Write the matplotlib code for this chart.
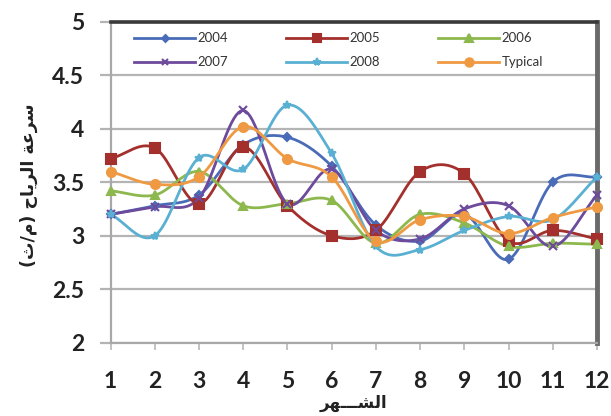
import numpy as np
import matplotlib.pyplot as plt

# monthly mean wind speed (m/s)
months = [1, 2, 3, 4, 5, 6, 7, 8, 9, 10, 11, 12]
y2004 = [3.20, 3.28, 3.38, 3.85, 3.92, 3.65, 3.10, 2.95, 3.20, 2.78, 3.50, 3.55]
y2005 = [3.72, 3.82, 3.30, 3.83, 3.28, 3.00, 3.05, 3.60, 3.58, 2.95, 3.05, 2.97]
y2006 = [3.42, 3.38, 3.60, 3.28, 3.30, 3.33, 2.93, 3.20, 3.12, 2.90, 2.93, 2.92]
y2007 = [3.20, 3.27, 3.35, 4.17, 3.30, 3.62, 3.05, 2.97, 3.25, 3.28, 2.90, 3.38]
y2008 = [3.20, 3.00, 3.73, 3.62, 4.22, 3.77, 2.90, 2.87, 3.05, 3.18, 3.15, 3.55]
typical = [3.60, 3.48, 3.55, 4.02, 3.72, 3.55, 2.95, 3.15, 3.18, 3.02, 3.17, 3.27]

series = [
    ("2004", y2004, "#4a6cb8", "D", 4),
    ("2005", y2005, "#a3302c", "s", 6.5),
    ("2006", y2006, "#8db84e", "^", 6),
    ("2007", y2007, "#6d4a9c", "x", 5.5),
    ("2008", y2008, "#5ab0d2", "*", 6),
    ("Typical", typical, "#ef9a42", "o", 6.5),
]

# shaped arabic text (presentation forms, visual order)
ylab = "(\uFE99/\uFEE1) \uFEA1\uFE8E\uFEF3\uFEAE\uFEDF\uFE8D \uFE94\uFECB\uFEAE\uFEB3"
xlab = "\uFEAE\uFEEC\u0640\u0640\u0640\uFEB8\uFEDF\uFE8D"


def smooth(x, y, n=20):
    # cardinal spline through the points, like a smoothed line in a spreadsheet
    x = np.asarray(x, float)
    y = np.asarray(y, float)
    px = np.concatenate([[2 * x[0] - x[1]], x, [2 * x[-1] - x[-2]]])
    py = np.concatenate([[2 * y[0] - y[1]], y, [2 * y[-1] - y[-2]]])
    t = np.linspace(0, 1, n)[:-1]
    xs, ys = [], []
    for i in range(1, len(px) - 2):
        p0, p1, p2, p3 = py[i - 1], py[i], py[i + 1], py[i + 2]
        q0, q1, q2, q3 = px[i - 1], px[i], px[i + 1], px[i + 2]
        h00 = 2 * t**3 - 3 * t**2 + 1
        h10 = t**3 - 2 * t**2 + t
        h01 = -2 * t**3 + 3 * t**2
        h11 = t**3 - t**2
        xs.append(h00 * q1 + h10 * (q2 - q0) / 2 + h01 * q2 + h11 * (q3 - q1) / 2)
        ys.append(h00 * p1 + h10 * (p2 - p0) / 2 + h01 * p2 + h11 * (p3 - p1) / 2)
    xs.append([x[-1]])
    ys.append([y[-1]])
    return np.concatenate(xs), np.concatenate(ys)


fig = plt.figure(figsize=(6.11, 4.16), dpi=100)
ax = fig.add_axes([0.181, 0.176, 0.796, 0.772])

handles = {}
for name, vals, col, mk, ms in series:
    sx, sy = smooth(months, vals)
    ax.plot(sx, sy, color=col, lw=2.0, zorder=3, clip_on=False)
    ax.plot(months, vals, ls="none", marker=mk, ms=ms, color=col,
            mec=col, mew=1.5, zorder=4, clip_on=False)
    h, = ax.plot([], [], color=col, lw=2.0, marker=mk, ms=ms - 0.5, mec=col, mew=1.5)
    handles[name] = h

ax.set_xlim(1, 12)
ax.set_ylim(2, 5)
ax.set_xticks(months)
ax.set_yticks([2, 2.5, 3, 3.5, 4, 4.5, 5])
ax.set_yticklabels(["2", "2.5", "3", "3.5", "4", "4.5", "5"])
ax.grid(axis="y", color="#b4b4b4", lw=1.6, zorder=1)

for s in ["left", "bottom"]:
    ax.spines[s].set_color("#a8a8a8")
    ax.spines[s].set_linewidth(1.6)
ax.spines["top"].set_color("#3a3a3a")
ax.spines["top"].set_linewidth(2.6)
ax.spines["right"].set_color("#6a6a6a")
ax.spines["right"].set_linewidth(3.5)

ax.tick_params(axis="x", length=5, width=1.2, color="#b8b8b8", pad=15,
               labelsize=16.5, labelcolor="#222222")
ax.tick_params(axis="y", length=8, width=1.6, color="#b4b4b4", pad=11,
               labelsize=16.5, labelcolor="#222222")
for lbl in ax.get_xticklabels() + ax.get_yticklabels():
    lbl.set_fontweight("bold")
    lbl.set_family("Lato")

ax.set_xlabel(xlab, family="DejaVu Sans", fontsize=12, fontweight="bold",
              labelpad=0, color="#222222")
ax.xaxis.set_label_coords(0.5, -0.16)
ax.set_ylabel(ylab, family="DejaVu Sans", fontsize=12.5, fontweight="bold",
              color="#222222")
ax.yaxis.set_label_coords(-0.15, 0.49)

# spreadsheet-style legend: rows are 2004/2005/2006 then 2007/2008/Typical
order = ["2004", "2007", "2005", "2008", "2006", "Typical"]
leg = ax.legend([handles[n] for n in order], order, ncol=3,
                loc="upper left", bbox_to_anchor=(0.03, 0.995), frameon=False,
                prop={"family": "Lato", "size": 9.5}, handlelength=4.6,
                columnspacing=4.4, labelspacing=0.9, borderaxespad=0.3,
                handletextpad=0.2)
for t in leg.get_texts():
    t.set_color("#333333")

fig.savefig("out.png", dpi=100, facecolor="white")
